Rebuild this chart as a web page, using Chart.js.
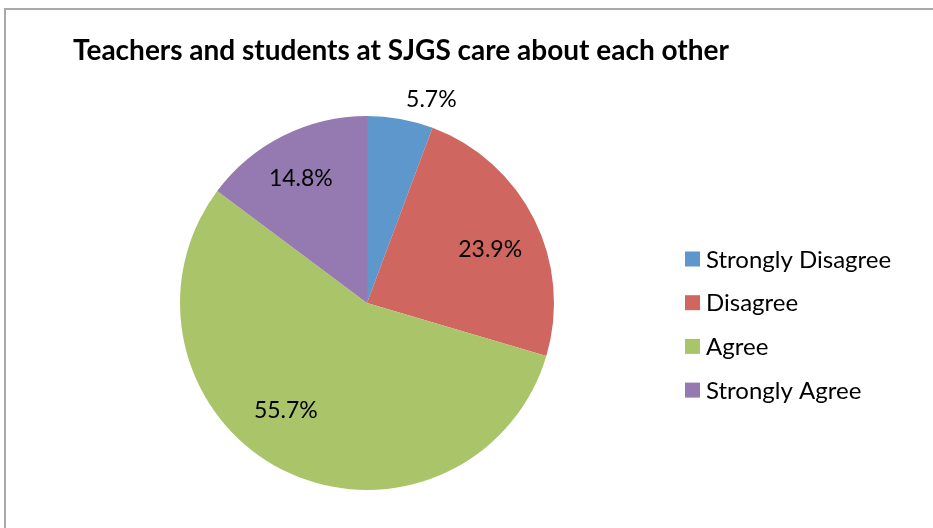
<!DOCTYPE html>
<html>
<head>
<meta charset="utf-8">
<script src="https://cdn.jsdelivr.net/npm/chart.js@4/dist/chart.umd.min.js"></script>
<style>
html,body{margin:0;padding:0;background:#fff;overflow:hidden;}
#wrap{position:relative;width:933px;height:528px;}
</style>
</head>
<body>
<div id="wrap"><canvas id="c" width="933" height="528"></canvas></div>
<script>
const chartTitle = "Teachers and students at SJGS care about each other";
const categories = ["Strongly Disagree", "Disagree", "Agree", "Strongly Agree"];
const percentages = [5.7, 23.9, 55.7, 14.8];
const sliceColors = ["#5E97CB", "#CF6760", "#AAC46A", "#957AB2"];

const FONT = "Lato, 'Noto Sans', sans-serif";

const decor = {
  id: 'decor',
  afterDraw(chart, args, opts) {
    const ctx = chart.ctx;
    ctx.save();
    // outer border
    ctx.strokeStyle = '#a9a9a9';
    ctx.lineWidth = 2;
    ctx.beginPath();
    ctx.moveTo(5, 540);
    ctx.lineTo(5, 9);
    ctx.lineTo(940, 9);
    ctx.stroke();

    // title
    ctx.fillStyle = '#000';
    ctx.font = "bold 28px " + FONT;
    ctx.textAlign = 'left';
    ctx.textBaseline = 'alphabetic';
    ctx.fillText(chartTitle, 73, 60);

    // legend
    ctx.font = "24px " + FONT;
    ctx.textBaseline = 'middle';
    categories.forEach((lab, i) => {
      const y = 259 + i * 43.7;
      ctx.fillStyle = sliceColors[i];
      ctx.fillRect(685, y - 7.5, 15, 15);
      ctx.fillStyle = '#000';
      ctx.fillText(lab, 706, y + 1);
    });

    // data labels
    const meta = chart.getDatasetMeta(0);
    ctx.font = "23px " + FONT;
    meta.data.forEach((arc, i) => {
      const p = arc.getProps(['x','y','startAngle','endAngle','outerRadius'], true);
      const mid = (p.startAngle + p.endAngle) / 2;
      const txt = percentages[i].toFixed(1) + '%';
      const frac = percentages[i];
      const nud = opts.nudges[i] || [0,0];
      if (frac < 10) {
        const r = p.outerRadius + 10;
        const ax = p.x + Math.cos(mid) * r;
        const ay = p.y + Math.sin(mid) * r;
        ctx.textAlign = 'left';
        ctx.textBaseline = 'alphabetic';
        ctx.fillStyle = '#000';
        ctx.fillText(txt, ax + 4 + nud[0], ay - 2 + nud[1]);
      } else {
        const r = p.outerRadius * 0.73;
        const ax = p.x + Math.cos(mid) * r;
        const ay = p.y + Math.sin(mid) * r;
        ctx.textAlign = 'center';
        ctx.textBaseline = 'middle';
        ctx.fillStyle = '#000';
        ctx.fillText(txt, ax + nud[0], ay + nud[1]);
      }
    });
    ctx.restore();
  }
};

new Chart(document.getElementById('c'), {
  type: 'pie',
  data: {
    labels: categories,
    datasets: [{
      data: percentages,
      backgroundColor: sliceColors,
      borderWidth: 0,
      hoverOffset: 0
    }]
  },
  options: {
    responsive: false,
    devicePixelRatio: 1,
    animation: false,
    events: [],
    layout: { padding: { left: 180, right: 379, top: 116, bottom: 38 } },
    plugins: {
      legend: { display: false },
      title: { display: false },
      tooltip: { enabled: false },
      decor: { nudges: [[0,0],[1,8],[-20,-14],[-5,-2]] }
    }
  },
  plugins: [decor]
});
</script>
</body>
</html>
